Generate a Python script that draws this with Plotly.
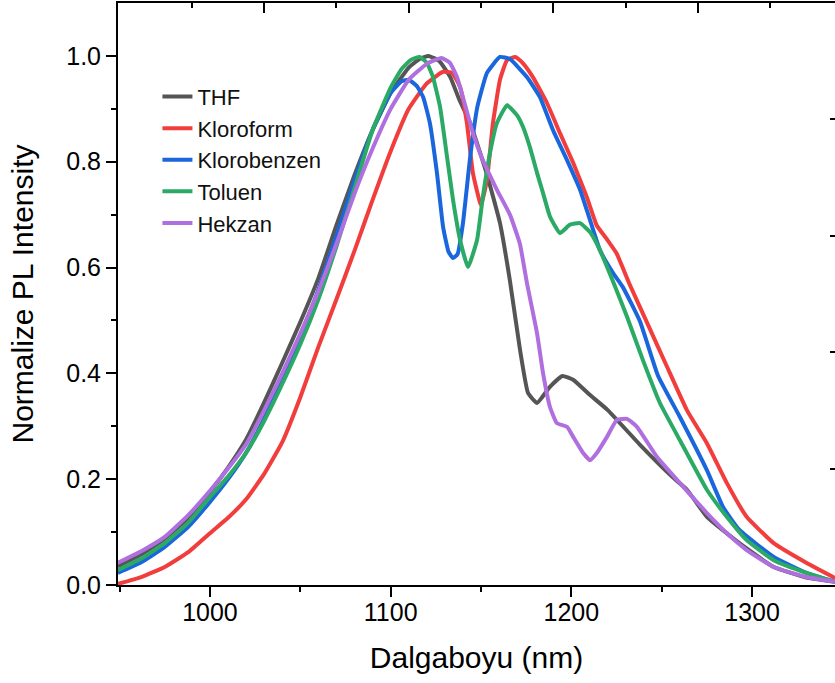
import plotly.graph_objects as go

# ---- data ----
thf_x = [949, 962, 975, 988, 1000, 1010, 1020, 1030, 1040, 1050, 1060, 1070, 1080, 1090, 1100, 1110,
         1116, 1121, 1127, 1133, 1138, 1144, 1153, 1160.5, 1166, 1171.6, 1176, 1181, 1188, 1195, 1201,
         1210, 1220, 1238, 1256, 1264, 1275, 1293, 1312, 1330, 1346]
thf_y = [0.035, 0.058, 0.087, 0.127, 0.176, 0.222, 0.275, 0.345, 0.42, 0.497, 0.58, 0.68, 0.775, 0.86, 0.93, 0.978,
         0.994, 1.0, 0.99, 0.96, 0.917, 0.873, 0.779, 0.684, 0.575, 0.444, 0.363, 0.344, 0.374, 0.395, 0.388,
         0.36, 0.331, 0.265, 0.204, 0.18, 0.129, 0.079, 0.034, 0.014, 0.006]

klf_x = [949, 962, 975, 988, 1000, 1010, 1020, 1030, 1040, 1050, 1060, 1070, 1080, 1090, 1100, 1110,
         1120, 1129, 1134, 1138.4, 1142.2, 1145.5, 1150, 1153.3, 1156.6, 1160.5, 1164.4, 1169, 1173,
         1178.7, 1186.5, 1193.7, 1201, 1208.6, 1214, 1220, 1225, 1232.4, 1242, 1253, 1264, 1275, 1286,
         1297, 1312, 1330, 1346]
klf_y = [0.002, 0.015, 0.034, 0.062, 0.098, 0.127, 0.162, 0.21, 0.27, 0.355, 0.45, 0.54, 0.632, 0.728, 0.82, 0.9,
         0.948, 0.97, 0.968, 0.941, 0.873, 0.779, 0.718, 0.766, 0.873, 0.955, 0.992, 0.998, 0.987,
         0.96, 0.911, 0.854, 0.798, 0.733, 0.68, 0.652, 0.627, 0.567, 0.495, 0.412, 0.33, 0.268, 0.193,
         0.129, 0.079, 0.042, 0.013]

klb_x = [949, 962, 975, 988, 1000, 1010, 1020, 1030, 1040, 1050, 1060, 1070, 1080, 1090, 1100, 1106,
         1110, 1114.5, 1118, 1121.7, 1125.6, 1129, 1132, 1134.5, 1137, 1140, 1144, 1148, 1153.3, 1160.5,
         1166, 1175.4, 1182.6, 1189.8, 1197.6, 1204.8, 1210.3, 1215.8, 1223, 1228.5, 1238, 1248, 1260,
         1275, 1284, 1293, 1312, 1330, 1346]
klb_y = [0.023, 0.043, 0.072, 0.11, 0.157, 0.2, 0.25, 0.315, 0.39, 0.47, 0.558, 0.66, 0.765, 0.86, 0.93, 0.952,
         0.955, 0.943, 0.922, 0.873, 0.779, 0.677, 0.63, 0.618, 0.625, 0.684, 0.809, 0.904, 0.968, 0.998,
         0.994, 0.96, 0.922, 0.86, 0.803, 0.747, 0.69, 0.633, 0.59, 0.563, 0.498, 0.395, 0.318,
         0.217, 0.147, 0.104, 0.053, 0.023, 0.006]

tol_x = [949, 962, 975, 988, 1000, 1010, 1020, 1030, 1040, 1050, 1060, 1070, 1080, 1090, 1100, 1106,
         1111, 1116, 1120, 1123.4, 1127.3, 1131.2, 1134.5, 1138.4, 1142.8, 1147.8, 1151, 1155, 1158.8,
         1164.4, 1169.9, 1173.2, 1177, 1181, 1184.3, 1188.2, 1193.7, 1199.2, 1204.8, 1210.3, 1215.8,
         1223, 1230.8, 1239.6, 1249, 1260, 1275, 1286, 1297, 1312, 1330, 1346]
tol_y = [0.028, 0.05, 0.079, 0.118, 0.166, 0.205, 0.25, 0.31, 0.38, 0.455, 0.54, 0.64, 0.75, 0.86, 0.94, 0.975,
         0.992, 0.998, 0.987, 0.96, 0.904, 0.809, 0.728, 0.652, 0.601, 0.652, 0.733, 0.817, 0.873,
         0.907, 0.888, 0.866, 0.828, 0.779, 0.741, 0.696, 0.665, 0.681, 0.684, 0.667, 0.633,
         0.574, 0.507, 0.425, 0.344, 0.274, 0.18, 0.129, 0.085, 0.047, 0.023, 0.006]

hek_x = [949, 962, 975, 988, 1000, 1010, 1020, 1030, 1040, 1050, 1060, 1070, 1080, 1090, 1100, 1110,
         1120, 1128, 1132.8, 1136.7, 1140, 1145.5, 1151, 1158.8, 1166, 1171.5, 1175.4, 1181, 1184.3,
         1188.2, 1192, 1197.6, 1201, 1206.4, 1210.3, 1214.2, 1219.7, 1225.2, 1230.8, 1236.3,
         1247.4, 1260, 1275, 1286, 1297, 1312, 1330, 1346]
hek_y = [0.042, 0.064, 0.091, 0.132, 0.178, 0.22, 0.266, 0.33, 0.4, 0.475, 0.555, 0.645, 0.74, 0.825, 0.9, 0.955,
         0.985, 0.996, 0.987, 0.96, 0.922, 0.854, 0.803, 0.747, 0.70, 0.645, 0.571, 0.476, 0.401,
         0.336, 0.306, 0.299, 0.28, 0.25, 0.236, 0.25, 0.28, 0.312, 0.314, 0.299,
         0.242, 0.193, 0.136, 0.098, 0.066, 0.034, 0.015, 0.006]

series = [
    ("THF", thf_x, thf_y, "#555555"),
    ("Kloroform", klf_x, klf_y, "#F23D3D"),
    ("Klorobenzen", klb_x, klb_y, "#1A66DD"),
    ("Toluen", tol_x, tol_y, "#2BAA66"),
    ("Hekzan", hek_x, hek_y, "#B06FDF"),
]

x_range = [949.1, 1345.9]
y_range = [0, 1.1]
y_ticks = [0.0, 0.2, 0.4, 0.6, 0.8, 1.0]
y_minor = [0.1, 0.3, 0.5, 0.7, 0.9]
top_major = [1030, 1110, 1190, 1270]
top_minor = [990, 1070, 1150, 1230, 1310]
right_ticks = [0.22, 0.44, 0.66, 0.88]

FONT = "Liberation Sans, Arial, sans-serif"

fig = go.Figure()
for i, (name, xs, ys, col) in enumerate(series):
    last = i == len(series) - 1
    # the last series is drawn on the mirrored (top/right) axes, which share the same ranges
    fig.add_trace(go.Scatter(x=xs, y=ys, mode="lines", name=name,
                             xaxis="x2" if last else "x", yaxis="y2" if last else "y",
                             line=dict(color=col, width=4, shape="spline", smoothing=0.4)))

fig.update_layout(
    width=835, height=683,
    margin=dict(l=118, r=0, t=3, b=98),
    paper_bgcolor="white", plot_bgcolor="white",
    font=dict(family=FONT, color="#000000"),
    showlegend=True,
    legend=dict(x=0.055, y=0.875, xanchor="left", yanchor="top",
                font=dict(size=22, family=FONT, color="#111111"),
                bgcolor="rgba(0,0,0,0)", borderwidth=0, tracegroupgap=0),
    xaxis=dict(range=x_range, showgrid=False, zeroline=False,
               showline=True, linecolor="black", linewidth=2,
               ticks="outside", ticklen=10, tickwidth=2, tickcolor="black",
               tick0=1000, dtick=100, ticklabelstandoff=-6,
               minor=dict(ticks="outside", ticklen=5, tickwidth=2, tickcolor="black", dtick=50, tick0=1000),
               tickfont=dict(size=25, family=FONT),
               title=dict(text="Dalgaboyu (nm)", font=dict(size=30, family=FONT), standoff=22)),
    yaxis=dict(range=y_range, showgrid=False, zeroline=False,
               showline=True, linecolor="black", linewidth=2,
               ticks="outside", ticklen=10, tickwidth=2, tickcolor="black",
               tickvals=y_ticks, tickformat=".1f",
               minor=dict(ticks="outside", ticklen=5, tickwidth=2, tickcolor="black", tickvals=y_minor),
               tickfont=dict(size=25, family=FONT), ticklabelstandoff=0,
               title=dict(text="Normalize PL Intensity", font=dict(size=30, family=FONT), standoff=24)),
    xaxis2=dict(overlaying="x", side="top", range=x_range, showgrid=False, zeroline=False,
                showline=True, linecolor="black", linewidth=2,
                ticks="inside", ticklen=10, tickwidth=2, tickcolor="black",
                tickvals=top_major, showticklabels=False,
                minor=dict(ticks="inside", ticklen=5, tickwidth=2, tickcolor="black", tickvals=top_minor)),
    yaxis2=dict(overlaying="y", side="right", range=y_range, showgrid=False, zeroline=False,
                showline=False, ticks="inside", ticklen=5, tickwidth=2, tickcolor="black",
                tickvals=right_ticks, showticklabels=False),
)

fig.write_html("out.html", config={"displayModeBar": False},
               post_script="document.body.style.margin='0px';")
